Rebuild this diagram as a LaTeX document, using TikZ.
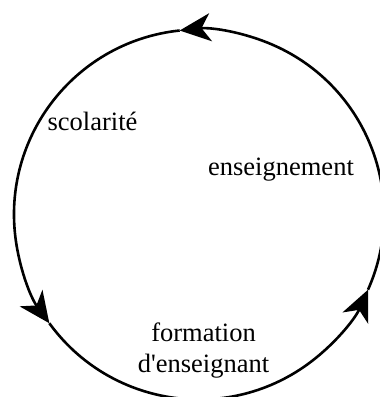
\documentclass[tikz,border=0pt]{standalone}
\usepackage{fontspec}
\setmainfont{Liberation Serif}
\usetikzlibrary{calc,arrows.meta}

\begin{document}
\begin{tikzpicture}[x=1pt,y=1pt,
		cycle arc/.style={line width=2.6pt, -{Stealth[length=31pt,width=28pt,inset=9pt]}},
		cycle label/.style={font=\fontsize{26.5}{31}\selectfont, inner sep=0pt}]
			\useasboundingbox (0,0) rectangle (380,397);
			\coordinate (c) at (199,182.5);

			\draw[cycle arc] ($(c)+(336:185)$) arc (336:456:185);
			\draw[cycle arc] ($(c)+(96:185)$) arc (96:216:185);
			\draw[cycle arc] ($(c)+(216:185)$) arc (216:336:185);

			\node[cycle label, anchor=base] (scol) at (92.5,266) {scolarité};
			\node[cycle label, anchor=base] (ens) at (281,221) {enseignement};
			\node[cycle label, align=center, anchor=base] (form) at (203.5,24.3) {formation\\d\textquotesingle enseignant};
		\end{tikzpicture}
\end{document}
